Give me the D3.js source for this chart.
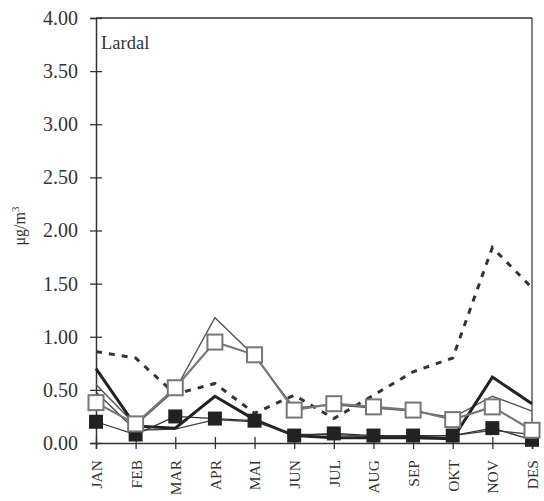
<!DOCTYPE html>
<html>
<head>
<meta charset="utf-8">
<script src="https://cdn.jsdelivr.net/npm/d3@7"></script>
</head>
<body style="margin:0;background:#fff">
<svg id="chart" width="544" height="501" style="display:block" font-family="Liberation Serif"></svg>
<script>
// Monthly concentrations at Lardal (µg/m³)
const months = ["JAN", "FEB", "MAR", "APR", "MAI", "JUN", "JUL", "AUG", "SEP", "OKT", "NOV", "DES"];
const yTicks = [0, 0.5, 1, 1.5, 2, 2.5, 3, 3.5, 4];

const dashedSeries   = [0.86, 0.80, 0.46, 0.56, 0.28, 0.45, 0.23, 0.45, 0.67, 0.80, 1.84, 1.46];
const thinGraySeries = [0.55, 0.17, 0.50, 1.18, 0.82, 0.33, 0.36, 0.33, 0.30, 0.24, 0.44, 0.30];
const thinDarkSeries = [0.48, 0.12, 0.13, 0.22, 0.20, 0.08, 0.08, 0.06, 0.06, 0.07, 0.12, 0.08];
const thickSeries    = [0.70, 0.16, 0.14, 0.44, 0.22, 0.07, 0.05, 0.05, 0.05, 0.04, 0.62, 0.37];
const filledSeries   = [0.20, 0.08, 0.25, 0.23, 0.21, 0.07, 0.09, 0.07, 0.07, 0.07, 0.14, 0.03];
const openSeries     = [0.38, 0.18, 0.52, 0.95, 0.83, 0.31, 0.37, 0.34, 0.31, 0.22, 0.34, 0.12];

const FONT = "Liberation Serif";
const svg = d3.select("#chart");
const plotLeft = 96, plotRight = 532, plotTop = 18, plotBottom = 443;

const x = d3.scalePoint().domain(months).range([plotLeft, plotRight]);
const y = d3.scaleLinear().domain([0, 4]).range([plotBottom, plotTop]);

const line = d3.line().x((d, i) => x(months[i])).y(d => y(d));

// frame: top and right edges
svg.append("line").attr("x1", plotLeft).attr("x2", plotRight).attr("y1", plotTop).attr("y2", plotTop)
  .attr("stroke", "#333").attr("stroke-width", 1.5);
svg.append("line").attr("x1", plotRight).attr("x2", plotRight).attr("y1", plotTop).attr("y2", plotBottom)
  .attr("stroke", "#333").attr("stroke-width", 1.2);

// y axis with ticks crossing the axis line
const yAxis = svg.append("g").attr("transform", `translate(${plotLeft},0)`)
  .call(d3.axisLeft(y).tickValues(yTicks).tickFormat(d3.format(".2f")).tickSize(6).tickPadding(12));
yAxis.attr("font-family", FONT).attr("font-size", 20);
yAxis.select(".domain").attr("stroke", "#333").attr("stroke-width", 1.5);
yAxis.selectAll(".tick line").attr("x1", 6).attr("x2", -6).attr("stroke", "#333").attr("stroke-width", 1.3);
yAxis.selectAll(".tick text").attr("fill", "#333");

// x axis with rotated month labels
const xAxis = svg.append("g").attr("transform", `translate(0,${plotBottom})`)
  .call(d3.axisBottom(x).tickSize(6).tickFormat(""));
xAxis.attr("font-family", FONT).attr("font-size", 15.5);
xAxis.select(".domain").attr("stroke", "#333").attr("stroke-width", 1.5);
xAxis.selectAll(".tick line").attr("y1", -6).attr("y2", 6).attr("stroke", "#333").attr("stroke-width", 1.3);
xAxis.selectAll(".tick").append("text")
  .attr("transform", "translate(0,17) rotate(-90)")
  .attr("text-anchor", "end")
  .attr("dy", "0.35em")
  .attr("fill", "#333")
  .text(d => d);

// y axis title
svg.append("text")
  .attr("transform", "translate(25,226) rotate(-90)")
  .attr("text-anchor", "middle")
  .attr("font-family", FONT).attr("font-size", 16)
  .attr("fill", "#333")
  .html('μg/m<tspan dy="-6" font-size="11">3</tspan>');

// station name
svg.append("text").attr("x", 101).attr("y", 49)
  .attr("font-family", FONT).attr("font-size", 18.5)
  .attr("fill", "#333").text("Lardal");

const plot = svg.append("g");

plot.append("path").datum(dashedSeries).attr("d", line)
  .attr("fill", "none").attr("stroke", "#333").attr("stroke-width", 3)
  .attr("stroke-dasharray", "6,7");

plot.append("path").datum(thinGraySeries).attr("d", line)
  .attr("fill", "none").attr("stroke", "#555").attr("stroke-width", 1.4);

plot.append("path").datum(thinDarkSeries).attr("d", line)
  .attr("fill", "none").attr("stroke", "#444").attr("stroke-width", 1.3);

plot.append("path").datum(thickSeries).attr("d", line)
  .attr("fill", "none").attr("stroke", "#222").attr("stroke-width", 3);

// filled-square series
plot.append("path").datum(filledSeries).attr("d", line)
  .attr("fill", "none").attr("stroke", "#333").attr("stroke-width", 1.3);
plot.selectAll("rect.filled").data(filledSeries).join("rect")
  .attr("class", "filled")
  .attr("x", (d, i) => x(months[i]) - 7).attr("y", d => y(d) - 7)
  .attr("width", 14).attr("height", 14)
  .attr("fill", "#222");

// open-square series
plot.append("path").datum(openSeries).attr("d", line)
  .attr("fill", "none").attr("stroke", "#777").attr("stroke-width", 2.2);
plot.selectAll("rect.open").data(openSeries).join("rect")
  .attr("class", "open")
  .attr("x", (d, i) => x(months[i]) - 7.5).attr("y", d => y(d) - 7.5)
  .attr("width", 15).attr("height", 15)
  .attr("fill", "#fff").attr("stroke", "#777").attr("stroke-width", 2);
</script>
</body>
</html>
